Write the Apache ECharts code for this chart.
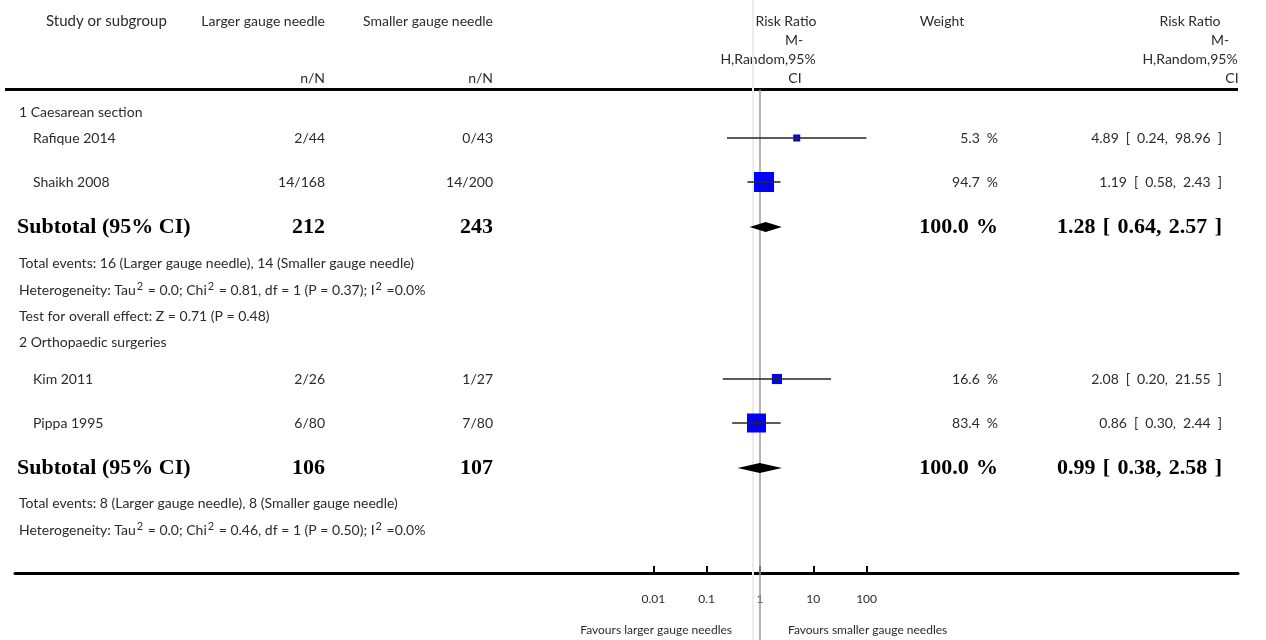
<!DOCTYPE html>
<html>
<head>
<meta charset="utf-8">
<script src="https://cdn.jsdelivr.net/npm/echarts@6/dist/echarts.min.js"></script>
<style>
  html, body { margin: 0; padding: 0; background: #ffffff; }
  #chart { width: 1266px; height: 640px; }
</style>
</head>
<body>
<div id="chart"></div>
<script>
// ---- study data ----
const studies        = ['Rafique 2014', 'Shaikh 2008', 'Kim 2011', 'Pippa 1995'];
const largerEvents   = ['2/44', '14/168', '2/26', '6/80'];
const smallerEvents  = ['0/43', '14/200', '1/27', '7/80'];
const weights        = [5.3, 94.7, 16.6, 83.4];
const riskRatio      = [4.89, 1.19, 2.08, 0.86];
const ciLow          = [0.24, 0.58, 0.20, 0.30];
const ciHigh         = [98.96, 2.43, 21.55, 2.44];

// ---- subgroup data ----
const groups          = ['1 Caesarean section', '2 Orthopaedic surgeries'];
const subLargerTotal  = [212, 106];
const subSmallerTotal = [243, 107];
const subWeight       = [100.0, 100.0];
const subRR           = [1.28, 0.99];
const subLow          = [0.64, 0.38];
const subHigh         = [2.57, 2.58];
const totalEvents = [
  'Total events: 16 (Larger gauge needle), 14 (Smaller gauge needle)',
  'Total events: 8 (Larger gauge needle), 8 (Smaller gauge needle)'
];
// {s|2} marks a superscript
const heterogeneity = [
  'Heterogeneity: Tau{s|2} = 0.0; Chi{s|2} = 0.81, df = 1 (P = 0.37); I{s|2} =0.0%',
  'Heterogeneity: Tau{s|2} = 0.0; Chi{s|2} = 0.46, df = 1 (P = 0.50); I{s|2} =0.0%'
];
const overallEffect = ['Test for overall effect: Z = 0.71 (P = 0.48)', null];

// ---- axis ----
const tickValues = [0.01, 0.1, 1, 10, 100];
const tickLabels = ['0.01', '0.1', '1', '10', '100'];
const favours    = ['Favours larger gauge needles', 'Favours smaller gauge needles'];

// ---- layout (pixel rows and column edges) ----
const studyRowY  = [138, 182, 379, 423];
const groupRowY  = [112, 342];
const subRowY    = [227, 468];
const totalRowY  = [263, 503];
const hetRowY    = [290, 530];
const effectRowY = [316, null];
const AXIS_Y = 573, TOP_RULE_Y = 89.5, LEFT = 15, RIGHT = 1238;
const ONE_X = 760, PX_PER_DECADE = 53.3;
const COL = { name: 33, group: 19, larger: 325, smaller: 493, weight: 998, rr: 1222 };

const FONT = 'Lato, "Open Sans", sans-serif';
const SERIF = '"Liberation Serif", "DejaVu Serif", serif';
const TXT = '#2b2b2b';
const SP = '\u2002';       // wide space in the regular numeric columns
const SP_BOLD = '\u2004';  // slightly narrower space for the bold totals

const log10 = Math.log10;
const fmt2 = v => v.toFixed(2);
const ciText = (r, l, h, sp) => `${fmt2(r)}${sp}[${sp}${fmt2(l)},${sp}${fmt2(h)}${sp}]`;
const pct = (w, sp) => w.toFixed(1) + sp + '%';

const graphics = [];
function text(x, y, str, align, extra) {
  graphics.push({
    type: 'text', x: x, y: y, silent: true,
    style: Object.assign({
      text: str, fill: TXT, font: `14px ${FONT}`,
      textAlign: align || 'left', textVerticalAlign: 'middle'
    }, extra || {})
  });
}
const bold = { font: `bold 22px ${SERIF}`, fill: '#000000' };
const supRich = {
  rich: {
    s: { fontSize: 11, fontFamily: FONT, fill: TXT, padding: [0, 1, 8, 1] }
  }
};

// header
text(46, 21, 'Study or subgroup', 'left', { font: `15px ${FONT}` });
text(COL.larger, 21, 'Larger gauge needle', 'right');
text(COL.smaller, 21, 'Smaller gauge needle', 'right');
text(COL.larger, 78, 'n/N', 'right');
text(COL.smaller, 78, 'n/N', 'right');
text(786, 21, 'Risk Ratio', 'center');
text(794, 40, 'M-', 'center');
text(768, 59, 'H,Random,95%', 'center');
text(795, 78, 'CI', 'center');
text(942, 21, 'Weight', 'center');
text(1190, 21, 'Risk Ratio', 'center');
text(1220, 40, 'M-', 'center');
text(1190, 59, 'H,Random,95%', 'center');
text(1232, 78, 'CI', 'center');

// study rows
studies.forEach((s, i) => {
  const y = studyRowY[i];
  text(COL.name, y, s);
  text(COL.larger, y, largerEvents[i], 'right');
  text(COL.smaller, y, smallerEvents[i], 'right');
  text(COL.weight, y, pct(weights[i], SP), 'right');
  text(COL.rr, y, ciText(riskRatio[i], ciLow[i], ciHigh[i], SP), 'right');
});

// subgroup rows
groups.forEach((g, k) => {
  text(COL.group, groupRowY[k], g);
  const y = subRowY[k];
  text(COL.group - 2, y, 'Subtotal (95% CI)', 'left', bold);
  text(COL.larger, y, String(subLargerTotal[k]), 'right', bold);
  text(COL.smaller, y, String(subSmallerTotal[k]), 'right', bold);
  text(COL.weight, y, pct(subWeight[k], SP_BOLD), 'right', bold);
  text(COL.rr, y, ciText(subRR[k], subLow[k], subHigh[k], SP_BOLD), 'right', bold);
  text(COL.group, totalRowY[k], totalEvents[k]);
  text(COL.group, hetRowY[k], heterogeneity[k], 'left', supRich);
  if (overallEffect[k]) text(COL.group, effectRowY[k], overallEffect[k]);
});

// favours captions
text(ONE_X - 28, 630, favours[0], 'right', { font: `12px ${FONT}` });
text(ONE_X + 28, 630, favours[1], 'left', { font: `12px ${FONT}` });

// rule under the header
graphics.push({
  type: 'line', silent: true,
  shape: { x1: LEFT - 10, y1: TOP_RULE_Y, x2: RIGHT, y2: TOP_RULE_Y },
  style: { stroke: '#000000', lineWidth: 3 }
});

// log10 scale spanning the full table width, with 1 at ONE_X
const axisMin = (LEFT - ONE_X) / PX_PER_DECADE;
const axisMax = (RIGHT - ONE_X) / PX_PER_DECADE;
const tickLogs = tickValues.map(log10);

const studyData = studies.map((s, i) => [
  log10(riskRatio[i]), log10(ciLow[i]), log10(ciHigh[i]), weights[i], studyRowY[i]
]);
const subData = subRR.map((r, k) => [log10(r), log10(subLow[k]), log10(subHigh[k]), subRowY[k]]);

const chart = echarts.init(document.getElementById('chart'), null, { renderer: 'canvas' });
chart.setOption({
  animation: false,
  backgroundColor: '#ffffff',
  grid: { left: LEFT, right: 1266 - RIGHT, top: 0, bottom: 640 - AXIS_Y },
  xAxis: {
    type: 'value', position: 'bottom', min: axisMin, max: axisMax,
    splitLine: { show: false },
    axisLine: { show: true, onZero: false, lineStyle: { color: '#000000', width: 3 } },
    axisTick: {
      show: true, inside: true, length: 7, customValues: tickLogs,
      lineStyle: { color: '#000000', width: 2 }
    },
    axisLabel: {
      show: true, customValues: tickLogs, margin: 20,
      color: TXT, fontFamily: FONT, fontSize: 12,
      formatter: v => {
        const idx = tickLogs.findIndex(t => Math.abs(t - v) < 1e-9);
        return idx >= 0 ? tickLabels[idx] : '';
      }
    }
  },
  yAxis: { type: 'value', min: 0, max: AXIS_Y, inverse: true, show: false },
  series: [
    {
      // line of no effect
      type: 'custom', clip: false, silent: true, z: 1,
      data: [[0]],
      renderItem: (params, api) => {
        const head = api.coord([api.value(0), 0]);
        const top = api.coord([api.value(0), TOP_RULE_Y]);
        const bot = api.coord([api.value(0), 640]);
        return {
          type: 'group', children: [
            { type: 'line', shape: { x1: head[0] - 7, y1: head[1], x2: bot[0] - 7, y2: bot[1] },
              style: { stroke: '#ececec', lineWidth: 2 } },
            { type: 'line', shape: { x1: top[0], y1: top[1], x2: bot[0], y2: bot[1] },
              style: { stroke: '#9a9a9a', lineWidth: 1.5 } }
          ]
        };
      }
    },
    {
      // individual studies: weighted square with CI whisker
      type: 'custom', clip: false, silent: true, z: 3,
      data: studyData,
      renderItem: (params, api) => {
        const y = api.value(4);
        const c = api.coord([api.value(0), y]);
        const l = api.coord([api.value(1), y]);
        const h = api.coord([api.value(2), y]);
        const s = 3 + 1.75 * Math.sqrt(api.value(3));
        return {
          type: 'group', children: [
            { type: 'rect', shape: { x: c[0] - s / 2, y: c[1] - s / 2, width: s, height: s },
              style: { fill: '#0000ff' } },
            { type: 'line', shape: { x1: l[0], y1: l[1], x2: h[0], y2: h[1] },
              style: { stroke: '#262626', lineWidth: 1.4 } },
            { type: 'line', shape: { x1: c[0], y1: c[1] - 3, x2: c[0], y2: c[1] + 3 },
              style: { stroke: '#262626', lineWidth: 1 } }
          ]
        };
      }
    },
    {
      // pooled subgroup estimates
      type: 'custom', clip: false, silent: true, z: 3,
      data: subData,
      renderItem: (params, api) => {
        const y = api.value(3);
        const c = api.coord([api.value(0), y]);
        const l = api.coord([api.value(1), y]);
        const h = api.coord([api.value(2), y]);
        return {
          type: 'polygon',
          shape: { points: [[l[0], y], [c[0], y - 5], [h[0], y], [c[0], y + 5]] },
          style: { fill: '#000000' }
        };
      }
    }
  ],
  graphic: graphics
});
</script>
</body>
</html>
